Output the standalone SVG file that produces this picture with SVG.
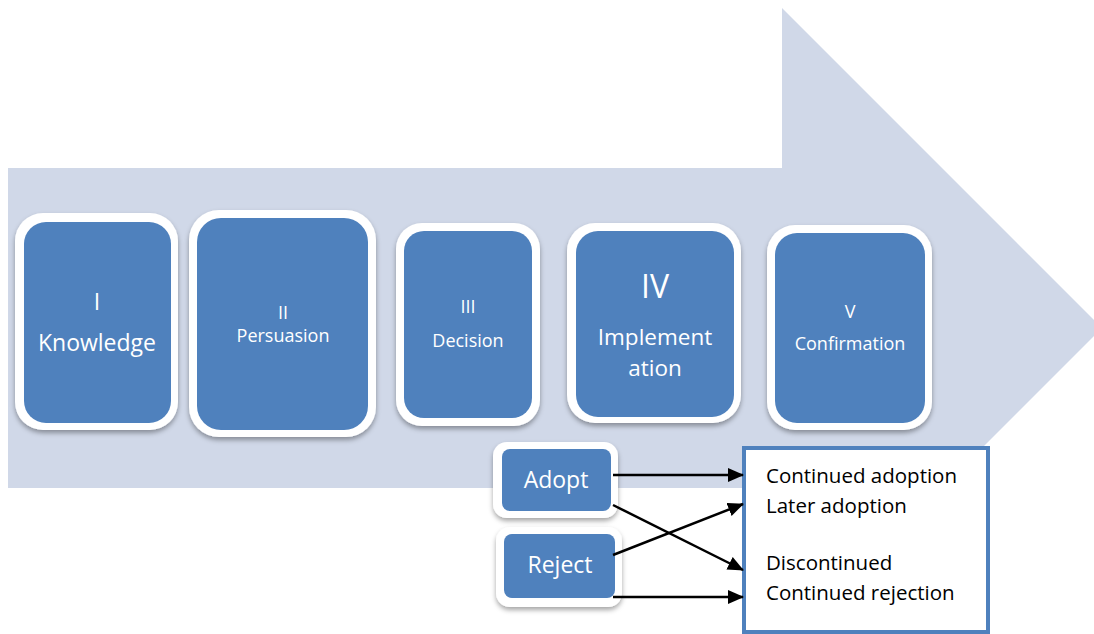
<svg xmlns="http://www.w3.org/2000/svg" width="1094" height="634" viewBox="0 0 1094 634">
<style>
.outer{fill:#ffffff;filter:url(#sh)}
.inner{fill:#4f81bd}
.t{font-family:"Open Sans","Liberation Sans",sans-serif;fill:#ffffff;text-anchor:middle}
.b{font-family:"Open Sans","Liberation Sans",sans-serif;fill:#000000;font-size:20.5px}
.c{stroke:#000000;stroke-width:2.5;fill:none;marker-end:url(#ah)}
</style>
<defs>
<filter id="sh" x="-20%" y="-20%" width="140%" height="140%">
<feDropShadow dx="0" dy="3" stdDeviation="2.5" flood-color="#000000" flood-opacity="0.35"/>
</filter>
<marker id="ah" markerWidth="16" markerHeight="14" refX="15" refY="7" orient="auto" markerUnits="userSpaceOnUse">
<path d="M0,0 L16,7 L0,14 Z" fill="#000000"/>
</marker>
</defs>
<rect width="1094" height="634" fill="#ffffff"/>
<path id="bigArrow" d="M8,168 L782,168 L782,8 L1102,328 L782,648 L782,488 L8,488 Z" fill="#d0d8e8"/>

<g id="n1">
<rect class="outer" x="15" y="213" width="163" height="217" rx="28"/>
<rect class="inner" x="24" y="222" width="147" height="201" rx="22"/>
<text class="t" x="97" y="310" font-size="23">I</text>
<text class="t" x="97" y="351" font-size="23">Knowledge</text>
</g>
<g id="n2">
<rect class="outer" x="189" y="210" width="187" height="227" rx="30"/>
<rect class="inner" x="197" y="218" width="171" height="212" rx="24"/>
<text class="t" x="283" y="319" font-size="18">II</text>
<text class="t" x="283" y="342" font-size="18">Persuasion</text>
</g>
<g id="n3">
<rect class="outer" x="396" y="223" width="144" height="203" rx="26"/>
<rect class="inner" x="404" y="231" width="128" height="187" rx="20"/>
<text class="t" x="468" y="313" font-size="18">III</text>
<text class="t" x="468" y="347" font-size="18">Decision</text>
</g>
<g id="n4">
<rect class="outer" x="567" y="223" width="174" height="200" rx="28"/>
<rect class="inner" x="576" y="231" width="158" height="186" rx="22"/>
<text class="t" x="655" y="298" font-size="32">IV</text>
<text class="t" x="655" y="345" font-size="22.5">Implement</text>
<text class="t" x="655" y="376" font-size="22.5">ation</text>
</g>
<g id="n5">
<rect class="outer" x="767" y="225" width="165" height="205" rx="28"/>
<rect class="inner" x="775" y="233" width="150" height="190" rx="22"/>
<text class="t" x="850" y="318" font-size="18">V</text>
<text class="t" x="850" y="350" font-size="18">Confirmation</text>
</g>
<g id="adopt">
<rect class="outer" x="493" y="442" width="125" height="76" rx="14"/>
<rect class="inner" x="502" y="449" width="109" height="62" rx="8"/>
<text class="t" x="556" y="488" font-size="23">Adopt</text>
</g>
<g id="reject">
<rect class="outer" x="496" y="527" width="126" height="80" rx="14"/>
<rect class="inner" x="504" y="534" width="111" height="64" rx="8"/>
<text class="t" x="560" y="573" font-size="23">Reject</text>
</g>
<g id="outcomes">
<rect x="744" y="448" width="244" height="184" fill="#ffffff" stroke="#4f81bd" stroke-width="4"/>
<text class="b" x="766" y="483">Continued adoption</text>
<text class="b" x="766" y="513">Later adoption</text>
<text class="b" x="766" y="570">Discontinued</text>
<text class="b" x="766" y="600">Continued rejection</text>
</g>
<g id="connectors">
<line class="c" x1="613" y1="475" x2="743" y2="475"/>
<line class="c" x1="613" y1="505" x2="743" y2="570"/>
<line class="c" x1="613" y1="555" x2="743" y2="504"/>
<line class="c" x1="613" y1="597" x2="743" y2="597"/>
</g>
</svg>
